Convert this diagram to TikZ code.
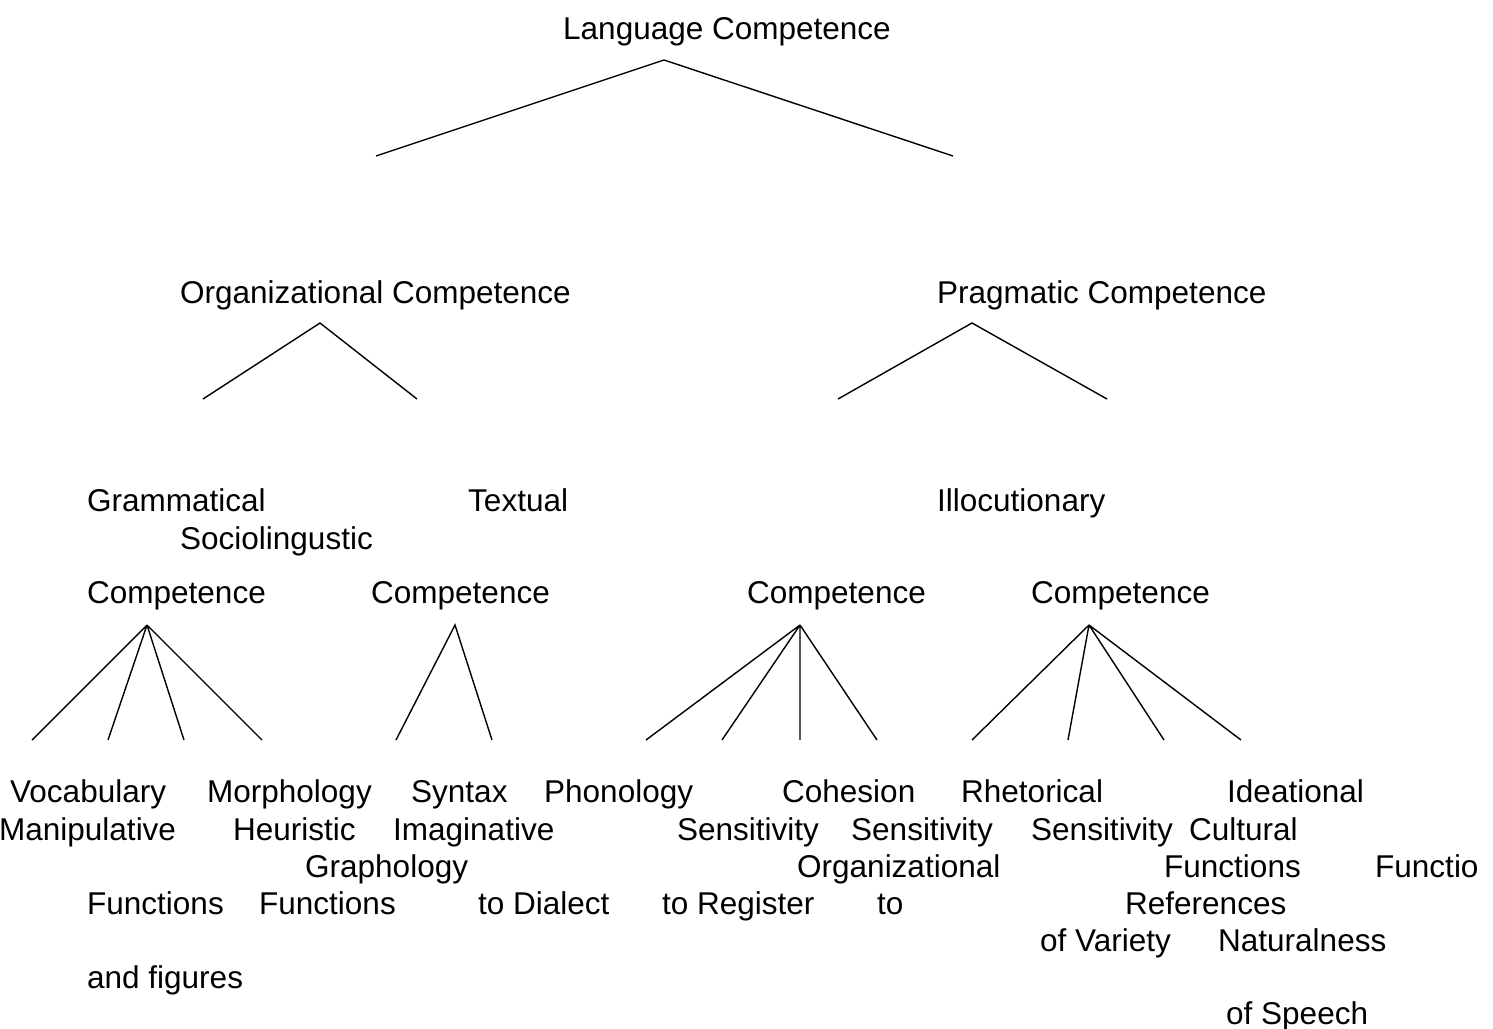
\documentclass[tikz,border=0pt]{standalone}
\usepackage{fontspec}
\setmainfont{Liberation Sans}
\begin{document}
\begin{tikzpicture}[x=1pt,y=-1pt,
  lbl/.style={anchor=base west, inner sep=0pt, font=\fontsize{31.5}{36}\selectfont},
  conn/.style={line width=1.4pt, line join=miter}]
\useasboundingbox (0,0) rectangle (1493,1028);
% top levels
\node[lbl] (lang) at (563,39) {Language Competence};
\node[lbl] (org) at (180,303) {Organizational Competence};
\node[lbl] (prag) at (937,303) {Pragmatic Competence};
\node[lbl] (gram) at (87,511) {Grammatical};
\node[lbl] (textual) at (468,511) {Textual};
\node[lbl] (illoc) at (937,511) {Illocutionary};
\node[lbl] (socio) at (180,549) {Sociolingustic};
\node[lbl] (compA) at (87,603) {Competence};
\node[lbl] (compB) at (371,603) {Competence};
\node[lbl] (compC) at (747,603) {Competence};
\node[lbl] (compD) at (1031,603) {Competence};
% bottom rows
\node[lbl] (vocab) at (10,802) {Vocabulary};
\node[lbl] (morph) at (207,802) {Morphology};
\node[lbl] (syntax) at (411,802) {Syntax};
\node[lbl] (phon) at (544,802) {Phonology};
\node[lbl] (cohes) at (782,802) {Cohesion};
\node[lbl] (rhet) at (961,802) {Rhetorical};
\node[lbl] (ideat) at (1227,802) {Ideational};
\node[lbl] (manip) at (-1,840) {Manipulative};
\node[lbl] (heur) at (233,840) {Heuristic};
\node[lbl] (imag) at (393,840) {Imaginative};
\node[lbl] (sensA) at (677,840) {Sensitivity};
\node[lbl] (sensB) at (851,840) {Sensitivity};
\node[lbl] (sensC) at (1031,840) {Sensitivity};
\node[lbl] (cult) at (1189,840) {Cultural};
\node[lbl] (graph) at (305,877) {Graphology};
\node[lbl] (orgz) at (797,877) {Organizational};
\node[lbl] (funcE) at (1164,877) {Functions};
\node[lbl] (funcF) at (1375,877) {Functio};
\node[lbl] (funcA) at (87,914) {Functions};
\node[lbl] (funcB) at (259,914) {Functions};
\node[lbl] (dial) at (478,914) {to Dialect};
\node[lbl] (regis) at (662,914) {to Register};
\node[lbl] (tto) at (877,914) {to};
\node[lbl] (refs) at (1125,914) {References};
\node[lbl] (variety) at (1040,951) {of Variety};
\node[lbl] (natur) at (1218,951) {Naturalness};
\node[lbl] (figs) at (87,988) {and figures};
\node[lbl] (speech) at (1226,1024) {of Speech};
% connector points
\coordinate (a0) at (664,60);
\coordinate (a0l) at (376,156);
\coordinate (a0r) at (953,156);
\coordinate (a1) at (320,323);
\coordinate (a1l) at (203,399);
\coordinate (a1r) at (417,399);
\coordinate (a2) at (972,323);
\coordinate (a2l) at (838,399);
\coordinate (a2r) at (1107,399);
\coordinate (a3) at (147,625);
\coordinate (a3a) at (32,740);
\coordinate (a3b) at (108,740);
\coordinate (a3c) at (184,740);
\coordinate (a3d) at (262,740);
\coordinate (a4) at (455,625);
\coordinate (a4a) at (396,740);
\coordinate (a4b) at (492,740);
\coordinate (a5) at (800,625);
\coordinate (a5a) at (646,740);
\coordinate (a5b) at (722,740);
\coordinate (a5c) at (800,740);
\coordinate (a5d) at (877,740);
\coordinate (a6) at (1089,625);
\coordinate (a6a) at (972,740);
\coordinate (a6b) at (1068,740);
\coordinate (a6c) at (1164,740);
\coordinate (a6d) at (1241,740);
% connectors
\draw[conn] (a0l) -- (a0) -- (a0r);
\draw[conn] (a1l) -- (a1) -- (a1r);
\draw[conn] (a2l) -- (a2) -- (a2r);
\draw[conn] (a3) -- (a3a) (a3) -- (a3b) (a3) -- (a3c) (a3) -- (a3d);
\draw[conn] (a4a) -- (a4) -- (a4b);
\draw[conn] (a5) -- (a5a) (a5) -- (a5b) (a5) -- (a5c) (a5) -- (a5d);
\draw[conn] (a6) -- (a6a) (a6) -- (a6b) (a6) -- (a6c) (a6) -- (a6d);
\end{tikzpicture}
\end{document}
